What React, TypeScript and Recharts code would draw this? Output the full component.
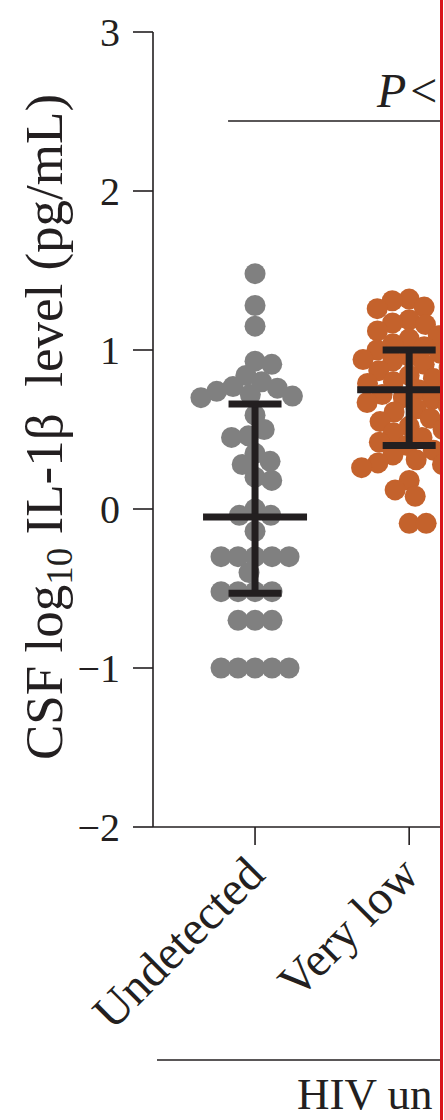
import React from 'react'
import { ScatterChart, Scatter, XAxis, YAxis, ReferenceLine } from 'recharts'

const FONT = '"Liberation Serif", "Times New Roman", serif'
const INK = '#231f20'

const categories = ['Undetected', 'Very low']

// CSF log10 IL-1β per participant
const undetectedValues = [
  1.48, 1.28, 1.15, 0.93, 0.91, 0.84, 0.8, 0.77, 0.76, 0.74, 0.72, 0.71, 0.7,
  0.59, 0.5, 0.46, 0.45, 0.35, 0.3, 0.28, 0.2, 0.18, 0.0, -0.04, -0.04, -0.14,
  -0.3, -0.3, -0.3, -0.3, -0.3, -0.4, -0.52, -0.52, -0.52, -0.52, -0.7, -0.7,
  -0.7, -1, -1, -1, -1, -1,
]
const veryLowValues = [
  1.32, 1.31, 1.27, 1.26, 1.19, 1.17, 1.16, 1.12, 1.09, 1.07, 1.04, 1.02, 1.0,
  0.98, 0.96, 0.94, 0.93, 0.91, 0.89, 0.87, 0.86, 0.84, 0.82, 0.8, 0.79, 0.77,
  0.75, 0.74, 0.72, 0.7, 0.69, 0.67, 0.65, 0.63, 0.61, 0.59, 0.57, 0.55, 0.52,
  0.5, 0.48, 0.45, 0.42, 0.4, 0.37, 0.34, 0.31, 0.29, 0.28, 0.26, 0.18, 0.12,
  0.08, -0.09, -0.09,
]

// centre line and whiskers per group
const centres = [-0.05, 0.75]
const upper = [0.66, 1.0]
const lower = [-0.53, 0.4]

const yTicks = [-2, -1, 0, 1, 2, 3]
const bracketY = 2.44

const W = 443
const H = 1120
const PLOT = { top: 32, left: 153, right: 440, bottom: 827 }
const X_DOMAIN: [number, number] = [-0.662, 1.2]
const Y_DOMAIN: [number, number] = [-2, 3]
const pxPerY = (PLOT.bottom - PLOT.top) / (Y_DOMAIN[1] - Y_DOMAIN[0])
const pxPerX = (PLOT.right - PLOT.left) / (X_DOMAIN[1] - X_DOMAIN[0])
const R = 10.5

// simple beeswarm: each dot goes to the free spot closest to the category centre
function swarmOffsets(values: number[], diameter: number) {
  const placed: { x: number; y: number }[] = []
  const offsets = new Array(values.length).fill(0)
  const order = values.map((_, i) => i).sort((a, b) => values[b] - values[a])
  order.forEach((i, n) => {
    const y = values[i] * pxPerY
    const blocks: [number, number][] = []
    placed.forEach((p) => {
      const dy = Math.abs(p.y - y)
      if (dy < diameter) {
        const w = Math.sqrt(diameter * diameter - dy * dy)
        blocks.push([p.x - w, p.x + w])
      }
    })
    const cands = [0]
    blocks.forEach(([a, b]) => cands.push(a, b))
    const sign = n % 2 === 0 ? 1 : -1
    cands.sort((a, b) => Math.abs(a) - Math.abs(b) || sign * (b - a))
    const x = cands.find((c) => blocks.every(([a, b]) => c <= a + 1e-6 || c >= b - 1e-6)) ?? 0
    placed.push({ x, y })
    offsets[i] = x / pxPerX
  })
  return offsets
}

function toPoints(values: number[], cat: number) {
  const offs = swarmOffsets(values, 17)
  return values.map((v, i) => ({ x: cat + offs[i], y: v }))
}

const undetectedPoints = toPoints(undetectedValues, 0)
const veryLowPoints = toPoints(veryLowValues, 1)
const summary = categories.map((_, i) => ({
  x: i,
  y: centres[i],
  hi: upper[i],
  lo: lower[i],
}))

const dot = (fill: string) => (props: any) => (
  <circle cx={props.cx} cy={props.cy} r={R} fill={fill} />
)

// centre bar + whisker with caps, drawn above the dots
const Summary = (props: any) => {
  const { cx, cy, payload } = props
  const yHi = cy - (payload.hi - payload.y) * pxPerY
  const yLo = cy + (payload.y - payload.lo) * pxPerY
  return (
    <g stroke={INK} strokeWidth={7}>
      <line x1={cx} x2={cx} y1={yLo} y2={yHi} />
      <line x1={cx - 26.5} x2={cx + 26.5} y1={yHi} y2={yHi} />
      <line x1={cx - 26.5} x2={cx + 26.5} y1={yLo} y2={yLo} />
      <line x1={cx - 52} x2={cx + 52} y1={cy} y2={cy} />
    </g>
  )
}

const YTick = ({ y, payload }: any) => (
  <text
    x={PLOT.left - 33}
    y={y}
    dy={14}
    textAnchor="end"
    fontSize={40}
    fontFamily={FONT}
    fill={INK}
  >
    {payload.value < 0 ? `\u2212${Math.abs(payload.value)}` : payload.value}
  </text>
)

const XTick = ({ x, payload }: any) => {
  const ax = x + 12
  const ay = PLOT.bottom + 50
  return (
    <text
      x={ax}
      y={ay}
      textAnchor="end"
      fontSize={48}
      fontFamily={FONT}
      fill={INK}
      transform={`rotate(-45, ${ax}, ${ay})`}
    >
      {categories[payload.value]}
    </text>
  )
}

export default function App() {
  return (
    <div style={{ position: 'absolute', left: 0, top: 0, width: 444, height: H, background: '#fff' }}>
      <ScatterChart
        width={W}
        height={H}
        margin={{ top: PLOT.top, right: W - PLOT.right, bottom: 0, left: 0 }}
      >
        <XAxis
          type="number"
          dataKey="x"
          domain={X_DOMAIN}
          ticks={[0, 1]}
          interval={0}
          allowDataOverflow
          height={H - PLOT.bottom}
          tickSize={18}
          axisLine={{ stroke: INK, strokeWidth: 1.6 }}
          tickLine={{ stroke: INK, strokeWidth: 1.6 }}
          tick={<XTick />}
        />
        <YAxis
          type="number"
          dataKey="y"
          domain={Y_DOMAIN}
          ticks={yTicks}
          interval={0}
          allowDataOverflow
          width={PLOT.left}
          tickSize={20}
          axisLine={{ stroke: INK, strokeWidth: 1.6 }}
          tickLine={{ stroke: INK, strokeWidth: 1.6 }}
          tick={<YTick />}
        />
        <ReferenceLine
          segment={[{ x: -0.175, y: bracketY }, { x: X_DOMAIN[1], y: bracketY }]}
          stroke={INK}
          strokeWidth={1.6}
          ifOverflow="hidden"
        />
        <Scatter data={undetectedPoints} isAnimationActive={false} shape={dot('#808080')} />
        <Scatter data={veryLowPoints} isAnimationActive={false} shape={dot('#c4622c')} />
        <Scatter data={summary} isAnimationActive={false} shape={Summary} />
      </ScatterChart>

      <svg
        width={444}
        height={H}
        style={{ position: 'absolute', left: 0, top: 0, pointerEvents: 'none' }}
        fontFamily={FONT}
        fill={INK}
      >
        <text
          transform="rotate(-90 62 427)"
          x={62}
          y={427}
          textAnchor="middle"
          fontSize={53}
          style={{ whiteSpace: 'pre' }}
        >
          CSF log<tspan fontSize={37} dy={10}>10</tspan>
          <tspan dy={-10}> IL-1β  level (pg/mL)</tspan>
        </text>
        <text x={377} y={107} fontSize={48}>
          <tspan fontStyle="italic">P</tspan>
          <tspan dx={4}>&lt;</tspan>
        </text>
        <line x1={157} x2={PLOT.right} y1={1060} y2={1060} stroke={INK} strokeWidth={1.6} />
        <text x={297} y={1109} fontSize={45}>HIV un</text>
        <rect x={PLOT.right} y={0} width={3} height={H} fill="#d9131b" />
        <rect x={PLOT.right + 3} y={0} width={1} height={H} fill="#fff" />
      </svg>
    </div>
  )
}
